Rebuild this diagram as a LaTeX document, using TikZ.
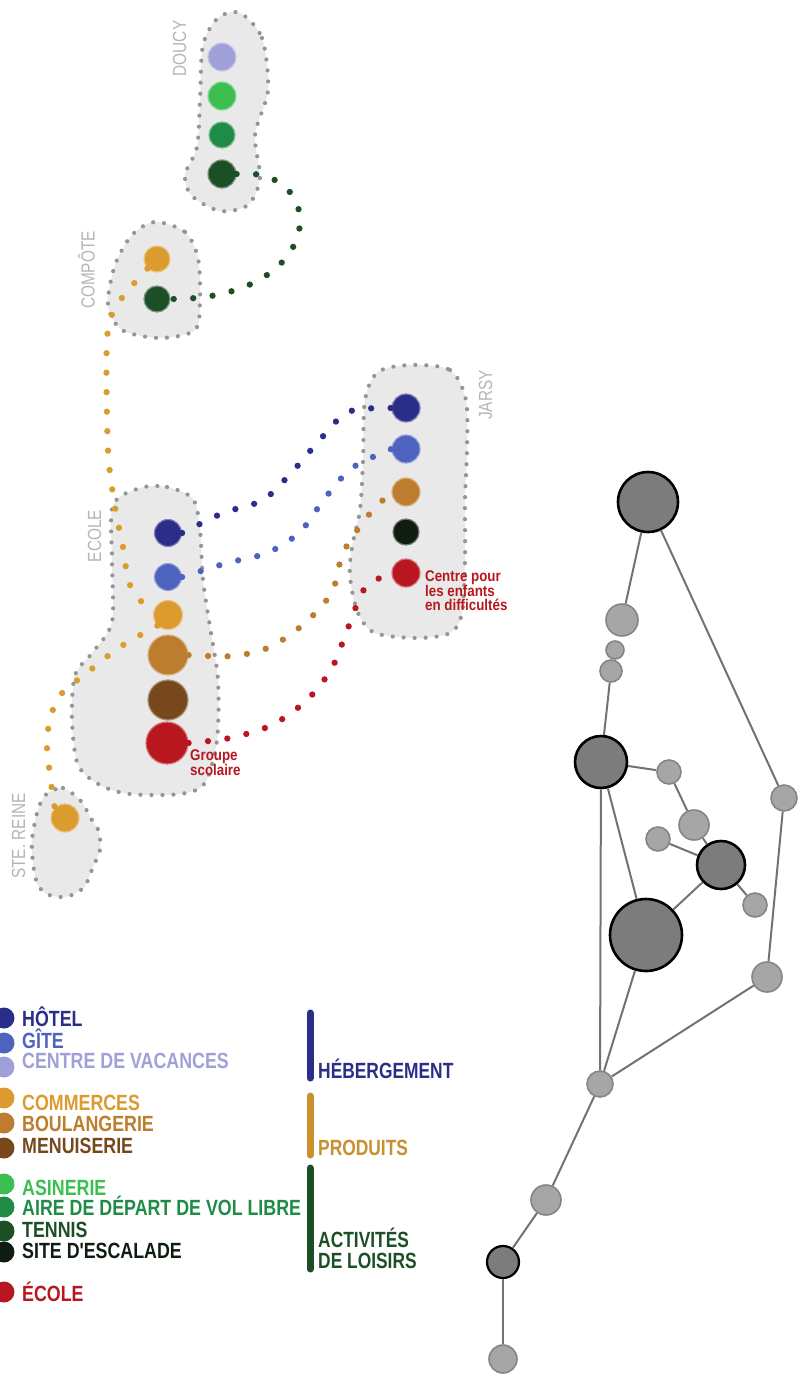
\documentclass[tikz,border=0pt]{standalone}
\usepackage{fontspec}
\newfontfamily\cond[FakeStretch=0.81]{Liberation Sans}
\newfontfamily\condl[FakeStretch=0.81]{Liberation Sans}
\newfontfamily\condk[FakeStretch=0.79]{Liberation Sans}
\newfontfamily\condr[FakeStretch=0.86]{Liberation Sans}
\definecolor{cnavy}{HTML}{2B2E88}
\definecolor{cblue}{HTML}{4E62BF}
\definecolor{clav}{HTML}{A0A0D8}
\definecolor{corange}{HTML}{DC9B2E}
\definecolor{cboul}{HTML}{BC7D2E}
\definecolor{cbrown}{HTML}{77481B}
\definecolor{clgreen}{HTML}{3DBE50}
\definecolor{cgreen}{HTML}{1E8C47}
\definecolor{cdgreen}{HTML}{1D4F27}
\definecolor{cblack}{HTML}{0F1D11}
\definecolor{cred}{HTML}{B8171F}
\definecolor{clabel}{HTML}{B5B5B5}
\definecolor{blobfill}{HTML}{E9E9E9}
\definecolor{blobline}{HTML}{959595}
\definecolor{netdark}{HTML}{7C7C7C}
\definecolor{netlight}{HTML}{A6A6A6}
\definecolor{netline}{HTML}{727272}
\definecolor{netrim}{HTML}{858585}
\definecolor{cprod}{HTML}{C8902F}
\begin{document}
\begin{tikzpicture}[x=1pt,y=-1pt,
  mc/.style={circle,inner sep=0pt,fill=#1,draw=#1!60!white,line width=1.2pt},
  conn/.style={draw=#1,line width=6.3pt,line cap=round,dash pattern=on 0pt off 19.5pt},
  blob/.style={fill=blobfill,draw=blobline,line width=4.2pt,line cap=round,dash pattern=on 0pt off 11pt},
  placelbl/.style={font=\cond\fontsize{19}{19}\selectfont,text=clabel,rotate=90,inner sep=0pt},
  lgdot/.style={circle,inner sep=0pt,minimum size=21pt,fill=#1},
  lgtext/.style={anchor=base west,inner sep=0pt,font=\condl\bfseries\fontsize{22}{22}\selectfont,text=#1},
  cattext/.style={anchor=base west,inner sep=0pt,font=\condk\bfseries\fontsize{22}{22}\selectfont,text=#1},
  catbar/.style={draw=#1,line width=7pt,line cap=round},
  hub/.style={circle,inner sep=0pt,draw=black,line width=2.6pt,fill=netdark},
  leaf/.style={circle,inner sep=0pt,draw=netrim,line width=1.6pt,fill=netlight},
  netedge/.style={draw=netline,line width=2pt},
  redlbl/.style={anchor=north west,inner sep=0pt,align=left,text=cred,font=\condr\bfseries\fontsize{15.5}{14}\selectfont}
]
\useasboundingbox (0,0) rectangle (798,1378);

% ---------- blobs ----------
\path[blob] plot[smooth cycle] coordinates {(240,13) (262,38) (268,90) (255,135) (260,178) (248,205) (220,211) (192,196) (185,175) (197,147) (200,100) (203,45) (218,18)};
\path[blob] plot[smooth cycle] coordinates {(155,222) (185,232) (198,258) (200,300) (195,330) (160,338) (122,330) (108,305) (115,265) (132,235)};
\path[blob] plot[smooth cycle] coordinates {(140,488) (167,487) (193,499) (200,530) (203,580) (210,627) (218,680) (217,740) (205,783) (180,794) (130,794) (100,785) (78,765) (72,720) (75,675) (93,652) (112,622) (112,560) (113,505)};
\path[blob] plot[smooth cycle] coordinates {(410,365) (450,370) (466,400) (467,450) (465,500) (465,560) (462,613) (450,633) (417,638) (375,633) (358,613) (350,577) (352,547) (360,510) (363,460) (365,400) (378,372)};
\path[blob] plot[smooth cycle] coordinates {(50,792) (63,788) (80,800) (92,820) (99,832) (100,850) (93,867) (85,886) (72,895) (58,897) (45,893) (37,883) (33,863) (32,840) (37,813) (43,798)};

% ---------- place labels ----------
\node[placelbl] (ldoucy) at (179.5,48.5) {DOUCY};
\node[placelbl] (lcompote) at (86.5,270) {COMPÔTE};
\node[placelbl] (lecole) at (94.5,536) {ECOLE};
\node[placelbl] (ljarsy) at (485.5,395) {JARSY};
\node[placelbl] (lreine) at (18.5,836) {STE. REINE};

% ---------- map circles ----------
\node[mc=clav,minimum size=28pt] (d1) at (222,57) {};
\node[mc=clgreen,minimum size=28pt] (d2) at (222,96) {};
\node[mc=cgreen,minimum size=26pt] (d3) at (222,135) {};
\node[mc=cdgreen,minimum size=28pt] (d4) at (222,174) {};
\node[mc=corange,minimum size=26pt] (c1) at (157,259) {};
\node[mc=cdgreen,minimum size=26pt] (c2) at (157,299) {};
\node[mc=cnavy,minimum size=27pt] (e1) at (168,533) {};
\node[mc=cblue,minimum size=27pt] (e2) at (168,577) {};
\node[mc=corange,minimum size=29pt] (e3) at (168,615) {};
\node[mc=cboul,minimum size=40pt] (e4) at (168,655) {};
\node[mc=cbrown,minimum size=40pt] (e5) at (168,700) {};
\node[mc=cred,minimum size=42pt] (e6) at (167,743) {};
\node[mc=cnavy,minimum size=28pt] (j1) at (406,408) {};
\node[mc=cblue,minimum size=28pt] (j2) at (406,449) {};
\node[mc=cboul,minimum size=28pt] (j3) at (406,492) {};
\node[mc=cblack,minimum size=26pt] (j4) at (406,532) {};
\node[mc=cred,minimum size=28pt] (j5) at (406,573) {};
\node[mc=corange,minimum size=28pt] (s1) at (65,818) {};

% ---------- dotted connectors ----------
\draw[conn=cdgreen] (d4.east) .. controls (330,165) and (330,300) .. (c2.east);
\draw[conn=corange] plot[smooth] coordinates {(c1.south west) (117,305) (107,340) (108,450) (115,507) (123,547) (130,585) (e3.west)};
\draw[conn=corange] plot[smooth] coordinates {(e3.south west) (120,647) (88,672) (58,698) (47,737) (50,775) (s1.north west)};
\draw[conn=cboul] plot[smooth] coordinates {(e4.east) (233,656) (270,647) (305,623) (332,592) (343,553) (367,517) (j3.west)};
\draw[conn=cred] plot[smooth] coordinates {(e6.east) (230,738) (272,725) (307,700) (332,668) (348,628) (365,588) (j5.west)};
\draw[conn=cnavy] plot[smooth] coordinates {(e1.east) (223,513) (263,500) (292,472) (318,442) (348,412) (j1.west)};
\draw[conn=cblue] plot[smooth] coordinates {(e2.east) (227,563) (267,553) (300,532) (325,498) (352,468) (j2.west)};

% ---------- red labels ----------
\node[redlbl] (lgroupe) at (190,749) {Groupe\\scolaire};
\node[redlbl] (lcentre) at (425,570) {Centre pour\\les enfants\\en difficultés};

% ---------- legend ----------
\node[lgdot=cnavy] (g1) at (4,1018) {};
\node[lgdot=cblue] (g2) at (4,1043) {};
\node[lgdot=clav] (g3) at (4,1067) {};
\node[lgdot=corange] (g4) at (4,1098) {};
\node[lgdot=cboul] (g5) at (4,1123) {};
\node[lgdot=cbrown] (g6) at (4,1148) {};
\node[lgdot=clgreen] (g7) at (4,1184) {};
\node[lgdot=cgreen] (g8) at (4,1207) {};
\node[lgdot=cdgreen] (g9) at (4,1231) {};
\node[lgdot=cblack] (g10) at (4,1252) {};
\node[lgdot=cred] (g11) at (4,1292) {};

\node[lgtext=cnavy] (t1) at (22,1026) {HÔTEL};
\node[lgtext=cblue] (t2) at (22,1048) {GÎTE};
\node[lgtext=clav] (t3) at (22,1068) {CENTRE DE VACANCES};
\node[lgtext=corange] (t4) at (22,1110) {COMMERCES};
\node[lgtext=cboul] (t5) at (22,1131.5) {BOULANGERIE};
\node[lgtext=cbrown] (t6) at (22,1153) {MENUISERIE};
\node[lgtext=clgreen] (t7) at (22,1195) {ASINERIE};
\node[lgtext=cgreen] (t8) at (22,1215) {AIRE DE DÉPART DE VOL LIBRE};
\node[lgtext=cdgreen] (t9) at (22,1237) {TENNIS};
\node[lgtext=cblack] (t10) at (22,1258) {SITE D'ESCALADE};
\node[lgtext=cred] (t11) at (22,1301.5) {ÉCOLE};

\coordinate (b1a) at (310,1013); \coordinate (b1b) at (310,1078);
\coordinate (b2a) at (310,1096); \coordinate (b2b) at (310,1155);
\coordinate (b3a) at (310,1168); \coordinate (b3b) at (310,1269);
\draw[catbar=cnavy] (b1a) -- (b1b);
\draw[catbar=cprod] (b2a) -- (b2b);
\draw[catbar=cdgreen] (b3a) -- (b3b);
\node[cattext=cnavy] (k1) at (318,1078) {HÉBERGEMENT};
\node[cattext=cprod] (k2) at (318,1155) {PRODUITS};
\node[cattext=cdgreen] (k3) at (318,1247) {ACTIVITÉS};
\node[cattext=cdgreen] (k4) at (318,1268) {DE LOISIRS};

% ---------- network ----------
\node[hub,minimum size=60pt] (n1) at (648,502) {};
\node[leaf,minimum size=32pt] (n2) at (622,620) {};
\node[leaf,minimum size=18pt] (n3) at (615,650) {};
\node[leaf,minimum size=22pt] (n4) at (611,671) {};
\node[hub,minimum size=52pt] (n5) at (601,762) {};
\node[leaf,minimum size=24pt] (n6) at (669,772) {};
\node[leaf,minimum size=30pt] (n7) at (694,825) {};
\node[leaf,minimum size=24pt] (n8) at (658,839) {};
\node[hub,minimum size=48pt] (n9) at (721,865) {};
\node[leaf,minimum size=24pt] (n10) at (755,905) {};
\node[leaf,minimum size=26pt] (n11) at (784,798) {};
\node[hub,minimum size=72pt] (n12) at (646,935) {};
\node[leaf,minimum size=30pt] (n13) at (767,977) {};
\node[leaf,minimum size=26pt] (n14) at (600,1084) {};
\node[leaf,minimum size=30pt] (n15) at (546,1200) {};
\node[hub,minimum size=32pt,line width=2.2pt] (n16) at (503,1262) {};
\node[leaf,minimum size=28pt] (n17) at (503,1359) {};

\draw[netedge] (n1) -- (n2);
\draw[netedge] (n1) -- (n11);
\draw[netedge] (n4) -- (n5);
\draw[netedge] (n5) -- (n6);
\draw[netedge] (n6) -- (n7);
\draw[netedge] (n7) -- (n9);
\draw[netedge] (n8) -- (n9);
\draw[netedge] (n9) -- (n10);
\draw[netedge] (n9) -- (n12);
\draw[netedge] (n5) -- (n12);
\draw[netedge] (n5) -- (n14);
\draw[netedge] (n12) -- (n14);
\draw[netedge] (n11) -- (n13);
\draw[netedge] (n13) -- (n14);
\draw[netedge] (n14) -- (n15);
\draw[netedge] (n15) -- (n16);
\draw[netedge] (n16) -- (n17);
\end{tikzpicture}
\end{document}
